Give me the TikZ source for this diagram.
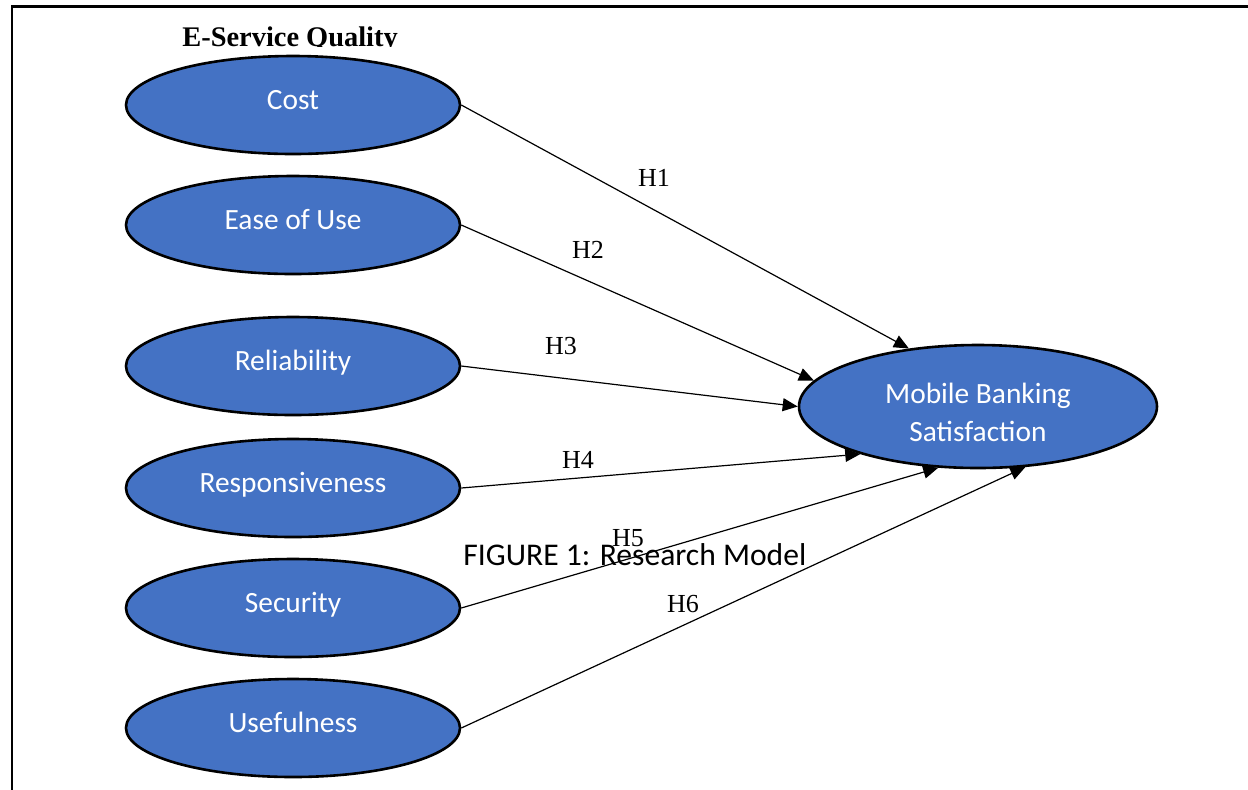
\documentclass[tikz,border=0pt]{standalone}
\usepackage{fontspec}
\setmainfont{Liberation Serif}
\newfontfamily\calibri{Carlito}
\usetikzlibrary{arrows.meta,shapes.geometric}
\definecolor{constructblue}{HTML}{4472C4}

\begin{document}
\begin{tikzpicture}[x=0.5pt,y=-0.5pt,
  bubble/.style={ellipse, draw=black, line width=1.3pt, fill=constructblue,
    inner sep=0pt, text=white, font=\calibri\fontsize{14.7}{19}\selectfont},
  construct/.style={bubble, minimum width=167pt, minimum height=49pt,
    text height=9.5pt, text depth=5pt},
  outcome/.style={bubble, minimum width=179pt, minimum height=61.5pt, align=center},
  hyp/.style={line width=0.6pt, -{Triangle[length=7.5pt,width=6.5pt]}},
  hlab/.style={font=\fontsize{13}{15}\selectfont, inner sep=0pt}]

\useasboundingbox (0,0) rectangle (1248,789);

% frame around the figure
\draw[line width=1.4pt] (1252,6.5) -- (12,6.5) -- (12,795);

% heading, cut off at its baseline
\begin{scope}
  \clip (0,0) rectangle (1248,46);
  \node[anchor=base west, inner sep=0pt,
        font=\bfseries\fontsize{14.2}{17}\selectfont] (title) at (182,46) {E-Service Quality};
\end{scope}

% constructs
\node[construct] (cost)  at (293,105) {Cost};
\node[construct] (ease)  at (293,225) {Ease of Use};
\node[construct] (rel)   at (293,366) {Reliability};
\node[construct] (resp)  at (293,488) {Responsiveness};
\node[construct] (sec)   at (293,608) {Security};
\node[construct] (use)   at (293,728) {Usefulness};
\node[outcome]   (mbs)   at (978,406.5) {\rule{0pt}{16pt}Mobile Banking\\Satisfaction};

% caption
\node[anchor=base west, inner sep=0pt, font=\calibri\fontsize{15.8}{18}\selectfont]
  (caption) at (463,565) {FIGURE 1: Research Model};

% hypothesised paths
\draw[hyp] (cost.east) -- (mbs.140);
\draw[hyp] (ease.east) -- (mbs.171);
\draw[hyp] (rel.east)  -- (mbs.180);
\draw[hyp] (resp.east) -- (mbs.202);
\draw[hyp] (sec.east)  -- (mbs.237);
\draw[hyp] (use.east)  -- (mbs.308);

% path labels
\node[hlab] (h1) at (654,178) {H1};
\node[hlab] (h2) at (588,250) {H2};
\node[hlab] (h3) at (561,346) {H3};
\node[hlab] (h4) at (578,460) {H4};
\node[hlab] (h5) at (628,538) {H5};
\node[hlab] (h6) at (683,604) {H6};
\end{tikzpicture}
\end{document}
